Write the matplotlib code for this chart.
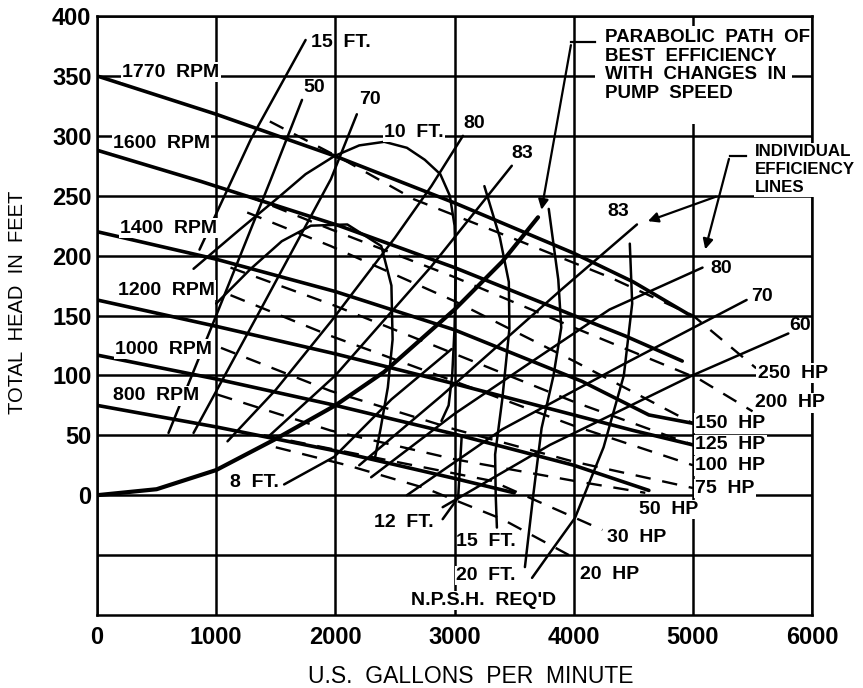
import matplotlib
matplotlib.use("Agg")
import matplotlib.pyplot as plt
from matplotlib.patches import Rectangle

plt.rcParams['font.family'] = ['Liberation Sans', 'DejaVu Sans']

# ---------------- data (gpm, feet) ----------------
x_ticks = [0, 1000, 2000, 3000, 4000, 5000, 6000]
y_ticks = [0, 50, 100, 150, 200, 250, 300, 350, 400]
y_grid_extra = [-50]

# pump head curves at various speeds (solid, heavy)
rpm_labels = ["1770  RPM", "1600  RPM", "1400  RPM", "1200  RPM", "1000  RPM", "800  RPM"]
rpm_1770_x = [0, 1000, 2000, 3000, 4000, 4500, 4980]
rpm_1770_y = [350, 318, 283, 244, 202, 178, 150]
rpm_1600_x = [0, 870, 2030, 3000, 4000, 4430, 4910]
rpm_1600_y = [288, 262, 225, 190, 150, 133, 112]
rpm_1400_x = [0, 1000, 2000, 3000, 4070, 4630, 5000]
rpm_1400_y = [220, 197, 170, 138, 95, 67, 60]
rpm_1200_x = [0, 1000, 2000, 3000, 4000, 4500, 5000]
rpm_1200_y = [163, 141, 118, 93, 67, 54, 42]
rpm_1000_x = [0, 1000, 2000, 3000, 4000, 4630]
rpm_1000_y = [117, 97, 75, 51, 25, 4]
rpm_800_x = [0, 1000, 2000, 3000, 3500]
rpm_800_y = [75, 57, 37, 14, 2]

# constant horsepower lines (dashed)
hp_labels = ["250  HP", "200  HP", "150  HP", "125  HP", "100  HP", "75  HP", "50  HP", "30  HP", "20  HP"]
hp250_x = [1450, 2070, 2660, 3500, 4300, 5000, 5530]
hp250_y = [312, 280, 247, 214, 182, 150, 106]
hp200_x = [1260, 1960, 3000, 4000, 5050, 5500]
hp200_y = [250, 222, 182, 140, 97, 70]
hp150_x = [1260, 1960, 3000, 4000, 5000]
hp150_y = [236, 208, 162, 112, 60]
hp125_x = [1120, 2000, 3000, 4000, 5000]
hp125_y = [190, 158, 118, 78, 42]
hp100_x = [1120, 1960, 3000, 4000, 5000]
hp100_y = [167, 133, 95, 58, 25]
hp75_x = [1040, 1960, 3000, 4000, 5000]
hp75_y = [123, 87, 55, 28, 6]
hp50_x = [1010, 1960, 3000, 4000, 4600]
hp50_y = [84, 54, 30, 12, 2]
hp30_x = [1400, 2300, 3310, 4240]
hp30_y = [50, 32, 12, -29]
hp20_x = [1500, 2100, 2750, 3400, 3960]
hp20_y = [40, 25, 6, -20, -50]

# individual efficiency lines (solid)
eff50_x = [600, 1000, 1460, 1720]
eff50_y = [52, 150, 264, 330]
eff70_x = [810, 1400, 1963, 2180]
eff70_y = [52, 160, 264, 318]
eff80_x = [1095, 1500, 1963, 2500, 2805, 3070]
eff80_y = [45, 88, 145, 215, 258, 300]
eff83a_x = [1450, 2000, 2805, 3480]
eff83a_y = [50, 100, 191, 275]
eff83b_x = [2200, 2890, 3900, 4530]
eff83b_y = [25, 83, 172, 226]
eff80b_x = [2300, 3000, 3700, 4300, 5080]
eff80b_y = [15, 68, 115, 155, 190]
eff70b_x = [2600, 3400, 4430, 5450]
eff70b_y = [0, 55, 110, 163]
eff60_x = [2900, 3800, 4995, 5800]
eff60_y = [-10, 42, 100, 135]

# N.P.S.H. required lines (solid)
npsh15a_x = [860, 1290, 1750]
npsh15a_y = [205, 297, 380]
npsh10_x = [810, 1200, 1515, 1750, 1990, 2200, 2410, 2600, 2750, 2880, 2960, 3000, 3010, 3000, 2980, 2950, 2890]
npsh10_y = [189, 222, 248, 268, 283, 292, 295, 290, 280, 268, 250, 225, 190, 140, 100, 75, 62]
npsh_inner_x = [1000, 1290, 1550, 1795, 2100, 2385, 2470, 2480, 2440, 2380, 2330]
npsh_inner_y = [160, 189, 212, 225, 226, 208, 175, 130, 90, 56, 30]
npsh8_x = [1570, 1990, 2470, 2975]
npsh8_y = [9, 32, 80, 122]
npsh12_x = [2900, 3030, 3060]
npsh12_y = [-20, -2, 50]
npsh15b_x = [3250, 3380, 3455, 3460, 3400, 3340, 3345, 3355]
npsh15b_y = [258, 215, 178, 139, 80, 34, 0, -27]
npsh20_x = [3790, 3870, 3895, 3830, 3730, 3660, 3590]
npsh20_y = [239, 180, 140, 100, 56, 0, -60]
curve_p_x = [4470, 4490, 4420, 4250, 4010, 3800, 3650]
curve_p_y = [210, 160, 100, 40, -19, -48, -69]

# parabolic path of best efficiency (heavy)
bep_x = [0, 500, 1000, 1500, 2000, 2410, 3000, 3400, 3700]
bep_y = [0, 5, 21, 47, 75, 103, 155, 195, 232]

# ---------------- figure ----------------
fig = plt.figure(figsize=(8.63, 6.88), dpi=100)
ax = fig.add_axes([0.1124, 0.1061, 0.8287, 0.8706])
ax.set_xlim(0, 6000)
ax.set_ylim(-100, 400)

GRID_LW = 1.8
for yv in y_ticks + y_grid_extra:
    ax.axhline(yv, color='black', lw=GRID_LW, zorder=1)
for xv in x_ticks:
    ax.axvline(xv, color='black', lw=GRID_LW, zorder=1)
for s in ax.spines.values():
    s.set_linewidth(GRID_LW)

ax.set_xticks(x_ticks)
ax.set_yticks(y_ticks)
ax.tick_params(length=0, labelsize=17)
for t in ax.get_xticklabels() + ax.get_yticklabels():
    t.set_fontweight('bold')
ax.tick_params(axis='x', pad=8)
ax.tick_params(axis='y', pad=4)

ax.set_ylabel("TOTAL  HEAD  IN  FEET", fontsize=14.5)
ax.yaxis.set_label_coords(-0.098, 0.522)
ax.set_xlabel("U.S.  GALLONS  PER  MINUTE", fontsize=16.5)
ax.xaxis.set_label_coords(0.522, -0.083)

# white box behind callout text (hides grid)
ax.add_patch(Rectangle((4180, 310), 1650, 82, facecolor='white', edgecolor='none', zorder=2))

def solid(x, y, lw=1.8):
    ax.plot(x, y, color='black', lw=lw, solid_joinstyle='round', solid_capstyle='round', zorder=3)

def dashed(x, y):
    ax.plot(x, y, color='black', lw=1.7, linestyle=(0, (6.5, 5)), zorder=3)

for xs, ys in [(rpm_1770_x, rpm_1770_y), (rpm_1600_x, rpm_1600_y), (rpm_1400_x, rpm_1400_y),
               (rpm_1200_x, rpm_1200_y), (rpm_1000_x, rpm_1000_y), (rpm_800_x, rpm_800_y)]:
    solid(xs, ys, lw=2.6)

for xs, ys in [(hp250_x, hp250_y), (hp200_x, hp200_y), (hp150_x, hp150_y), (hp125_x, hp125_y),
               (hp100_x, hp100_y), (hp75_x, hp75_y), (hp50_x, hp50_y), (hp30_x, hp30_y), (hp20_x, hp20_y)]:
    dashed(xs, ys)

for xs, ys in [(eff50_x, eff50_y), (eff70_x, eff70_y), (eff80_x, eff80_y), (eff83a_x, eff83a_y),
               (eff83b_x, eff83b_y), (eff80b_x, eff80b_y), (eff70b_x, eff70b_y), (eff60_x, eff60_y),
               (npsh15a_x, npsh15a_y), (npsh10_x, npsh10_y), (npsh_inner_x, npsh_inner_y),
               (npsh8_x, npsh8_y), (npsh12_x, npsh12_y), (npsh15b_x, npsh15b_y),
               (npsh20_x, npsh20_y), (curve_p_x, curve_p_y)]:
    solid(xs, ys, lw=1.8)

solid(bep_x, bep_y, lw=3.0)

# leaders with arrowheads
ax.plot([4180, 3980], [378, 378], color='black', lw=1.6, zorder=3)
ax.annotate("", xy=(3725, 236), xytext=(3980, 378),
            arrowprops=dict(arrowstyle='-|>', color='black', lw=1.6, mutation_scale=15), zorder=3)
ax.plot([5443, 5308], [283, 283], color='black', lw=1.6, zorder=3)
ax.annotate("", xy=(5097, 203), xytext=(5308, 283),
            arrowprops=dict(arrowstyle='-|>', color='black', lw=1.6, mutation_scale=15), zorder=3)
ax.annotate("", xy=(4600, 228), xytext=(5215, 250),
            arrowprops=dict(arrowstyle='-|>', color='black', lw=1.6, mutation_scale=15), zorder=3)

WB = dict(facecolor='white', edgecolor='none', pad=1.0)

def label(x, y, s, box=True, size=14, **kw):
    ax.text(x, y, s, fontsize=size, fontweight='bold', ha='left', va='center',
            bbox=WB if box else None, zorder=6, **kw)

# rpm labels
label(211, 353, rpm_labels[0])
label(135, 294, rpm_labels[1])
label(194, 223, rpm_labels[2])
label(177, 171, rpm_labels[3])
label(152, 122, rpm_labels[4])
label(135, 83, rpm_labels[5])

# efficiency / NPSH labels
label(1794, 378, "15  FT.", box=False)
label(1735, 340, "50", box=False)
label(2199, 330, "70", box=False)
label(2409, 303, "10  FT.")
label(3074, 310, "80", box=False)
label(3479, 285, "83", box=False)
label(4280, 237, "83", box=False)
label(5148, 189, "80", box=False)
label(5485, 166, "70", box=False)
label(5810, 142, "60", box=False)

# horsepower labels
label(5543, 102, hp_labels[0])
label(5518, 77, hp_labels[1])
label(5021, 60, hp_labels[2])
label(5021, 42, hp_labels[3])
label(5021, 24.6, hp_labels[4])
label(5021, 5.5, hp_labels[5])
label(4550, -12, hp_labels[6])
label(4280, -35, hp_labels[7])
label(4052, -66, hp_labels[8])

label(1120, 10.5, "8  FT.", box=False)
label(2325, -23, "12  FT.", box=False)
label(3016, -39, "15  FT.", box=False)
label(3016, -67, "20  FT.")
label(2637, -88, "N.P.S.H.  REQ'D")

ax.text(4263, 389, "PARABOLIC  PATH  OF\nBEST  EFFICIENCY\nWITH  CHANGES  IN\nPUMP  SPEED",
        fontsize=13.5, fontweight='bold', ha='left', va='top', linespacing=1.12, zorder=6)
ax.text(5520, 293, "INDIVIDUAL\nEFFICIENCY\nLINES", fontsize=12.2, fontweight='bold',
        ha='left', va='top', linespacing=1.25, zorder=6,
        bbox=dict(facecolor='white', edgecolor='none', pad=1.0))

fig.savefig("out.png", dpi=100)
